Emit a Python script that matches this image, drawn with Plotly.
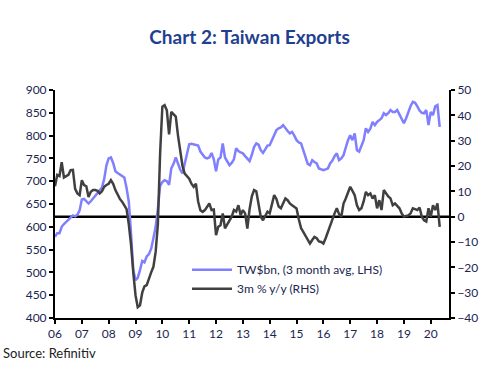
import plotly.graph_objects as go

start_year = 2006
# TW$bn, 3 month avg (LHS), monthly from Jan 2006 to May 2020
exports_lhs = [
    578, 586, 586, 600, 606, 611, 614, 620, 625, 623, 626, 636,   # 2006
    660, 661, 655, 651, 656, 662, 670, 675, 680, 686, 705, 735,   # 2007
    750, 752, 740, 722, 718, 715, 712, 708, 685, 655, 585, 505,   # 2008
    483, 488, 505, 525, 522, 535, 540, 552, 575, 600, 640, 690,   # 2009
    698, 702, 700, 692, 728, 738, 752, 738, 725, 717, 740, 765,   # 2010
    781, 782, 781, 780, 778, 765, 757, 752, 750, 752, 762, 748,   # 2011
    722, 748, 752, 783, 752, 742, 735, 740, 748, 772, 766, 763,   # 2012
    761, 755, 750, 744, 758, 775, 783, 780, 768, 762, 770, 778,   # 2013
    779, 790, 800, 812, 816, 818, 823, 815, 810, 805, 808, 800,   # 2014
    790, 785, 783, 768, 752, 738, 735, 746, 742, 739, 728, 726,   # 2015
    724, 726, 728, 739, 745, 755, 761, 746, 750, 757, 775, 790,   # 2016
    801, 790, 805, 768, 765, 778, 790, 816, 808, 815, 830, 823,   # 2017
    830, 834, 838, 849, 845, 849, 856, 852, 852, 856, 845, 838,   # 2018
    827, 838, 852, 865, 874, 872, 864, 855, 850, 849, 856, 823,   # 2019
    852, 845, 864, 867, 819,                                      # 2020
]
# 3m % y/y (RHS)
growth_rhs = [
    12.0, 16.5, 16.0, 21.5, 15.5, 16.0, 16.5, 18.4, 18.5, 11.0, 9.2, 8.5,
    14.4, 12.5, 12.0, 7.8, 9.8, 10.5, 10.5, 10.2, 9.2, 10.0, 11.8, 12.5,
    13.0, 14.4, 13.0, 10.5, 8.5, 7.0, 5.9, 4.5, 3.0, -3.0, -11.0, -22.0,
    -31.0, -35.7, -35.0, -30.0, -27.5, -27.0, -24.0, -22.0, -19.8, -13.9, -3.0, 25.0,
    43.4, 44.0, 42.0, 32.5, 41.4, 40.5, 39.5, 32.0, 26.0, 20.0, 17.0, 16.0,
    15.0, 13.0, 11.8, 13.0, 6.0, 2.5, 1.9, 2.6, 4.0, 5.2, 2.6, 2.8,
    -7.3, -4.0, -3.4, 1.3, -4.6, -3.0, -1.4, 0.0, 2.6, 2.0, 4.5, 0.6,
    2.6, 1.3, -4.7, 3.0, 8.0, 10.5, 10.0, 5.0, 0.0, -1.4, 0.5, 2.0,
    1.3, 5.5, 8.5, 7.0, 4.0, 3.3, 5.2, 7.2, 6.5, 5.2, 4.5, 4.0,
    3.2, -1.0, -4.5, -6.0, -7.5, -9.0, -10.6, -9.2, -8.0, -8.5, -9.8, -10.0,
    -10.6, -8.5, -6.0, -3.0, -1.0, 1.3, 3.3, 1.0, 0.0, 5.2, 7.2, 9.8,
    11.8, 10.2, 8.5, 4.5, 2.6, 3.3, 6.0, 9.8, 8.5, 9.2, 7.2, 8.5,
    3.3, 6.5, 2.6, 10.5, 9.2, 8.0, 7.2, 4.5, 5.2, 4.0, 3.3, 1.3,
    0.0, 0.3, 0.5, 1.3, 3.3, 3.0, 2.6, 3.6, 0.0, -1.4, -1.9, 3.3,
    0.0, 4.5, 2.6, 5.2, -4.0,
]
year_ticks = list(range(2006, 2021))
year_labels = ["%02d" % (y % 100) for y in year_ticks]
lhs_ticks = list(range(400, 901, 50))
rhs_ticks = list(range(-40, 51, 10))

x_vals = [start_year + i / 12 for i in range(len(exports_lhs))]

text_col = "#1a2550"
fnt = "Lato, 'Open Sans', sans-serif"

fig = go.Figure()
fig.add_trace(go.Scatter(
    x=x_vals, y=exports_lhs, mode="lines", name="TW$bn, (3 month avg, LHS)",
    line=dict(color="#7f7fff", width=2.5), yaxis="y"))
fig.add_trace(go.Scatter(
    x=x_vals, y=growth_rhs, mode="lines", name="3m % y/y (RHS)",
    line=dict(color="#404040", width=2.5), yaxis="y2"))

fig.add_shape(type="line", xref="paper", yref="y2", x0=0, x1=1, y0=0, y1=0,
              line=dict(color="black", width=2.5), layer="below")

fig.update_layout(
    width=499, height=369,
    margin=dict(l=55, r=50, t=90, b=51),
    paper_bgcolor="white", plot_bgcolor="white",
    font=dict(family=fnt, size=12, color=text_col),
    title=dict(text="<b>Chart 2: Taiwan Exports</b>", x=0.5, xanchor="center",
               y=1 - 37 / 369, yanchor="middle",
               font=dict(family=fnt, size=19, color="#1f3f8f")),
    showlegend=True,
    legend=dict(x=0.335, y=0.275, xanchor="left", yanchor="top",
                bgcolor="rgba(0,0,0,0)", font=dict(size=12, color=text_col),
                tracegroupgap=4, itemwidth=40),
    xaxis=dict(range=[2006, 2020.68], tickmode="array", tickvals=year_ticks,
               ticktext=year_labels, showgrid=False, zeroline=False,
               showline=True, linecolor="black", linewidth=2,
               ticks="outside", ticklen=4, tickwidth=2, tickcolor="black",
               tickfont=dict(size=12, color=text_col)),
    yaxis=dict(range=[400, 900], tickmode="array", tickvals=lhs_ticks,
               showgrid=False, zeroline=False, showline=True,
               linecolor="black", linewidth=2, ticks="outside", ticklen=4,
               tickwidth=2, tickcolor="black",
               tickfont=dict(size=12, color=text_col)),
    yaxis2=dict(range=[-40, 50], tickmode="array", tickvals=rhs_ticks,
                overlaying="y", side="right", showgrid=False, zeroline=False,
                showline=True, linecolor="black", linewidth=2,
                ticks="outside", ticklen=4, tickwidth=2, tickcolor="black",
                tickfont=dict(size=12, color=text_col)),
    annotations=[dict(text="Source: Refinitiv", xref="paper", yref="paper",
                      x=-54 / 394, y=-35 / 228, xanchor="left", yanchor="middle",
                      showarrow=False, font=dict(size=13, color="#222222"))],
)

fig.write_html("out.html",
               config={"displayModeBar": False},
               post_script="document.body.style.margin='0px';"
                           "document.body.style.overflow='hidden';")
